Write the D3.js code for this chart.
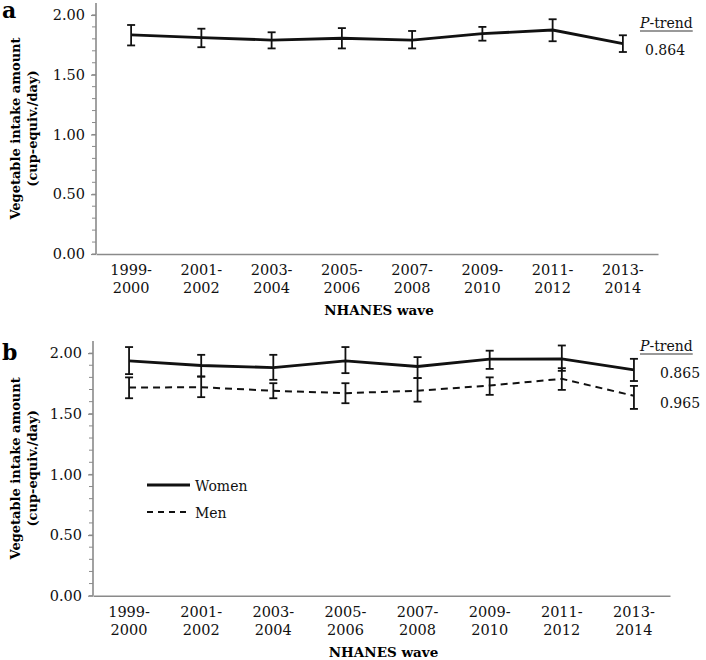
<!DOCTYPE html>
<html><head><meta charset="utf-8">
<script src="https://cdn.jsdelivr.net/npm/d3@7"></script>
<style>
body{margin:0;background:#fff;}
</style></head>
<body>
<svg id="chart" width="706" height="660"></svg>
<script>
const waves = ["1999-2000","2001-2002","2003-2004","2005-2006","2007-2008","2009-2010","2011-2012","2013-2014"];
// Panel a: total
const totalMean = [1.833,1.81,1.79,1.805,1.79,1.843,1.874,1.76];
const totalLo   = [1.745,1.73,1.72,1.72,1.72,1.785,1.78,1.69];
const totalHi   = [1.916,1.885,1.855,1.89,1.866,1.90,1.964,1.83];
// Panel b: women / men
const womenMean = [1.936,1.898,1.881,1.936,1.89,1.95,1.953,1.862];
const womenLo   = [1.827,1.807,1.78,1.835,1.794,1.87,1.854,1.77];
const womenHi   = [2.05,1.986,1.986,2.05,1.967,2.02,2.063,1.953];
const menMean   = [1.716,1.719,1.689,1.67,1.69,1.733,1.788,1.648];
const menLo     = [1.628,1.637,1.628,1.587,1.60,1.656,1.697,1.54];
const menHi     = [1.80,1.807,1.752,1.752,1.794,1.80,1.876,1.73];
const yTicks = [0,0.5,1.0,1.5,2.0];
const pTrendA = ["0.864"];
const pTrendB = ["0.865","0.965"];
const seriesNames = ["Women","Men"];

const FONT = "DejaVu Serif";
const svg = d3.select("#chart").attr("font-family", FONT);
const axisColor = "#8a8a8a";
const FS = "14.5px";
const FS2 = "14px";

function panel(opt){
  const g = svg.append("g");
  const x = d3.scaleBand().domain(waves).range([opt.x0, opt.x1]);
  const y = d3.scaleLinear().domain([0,2.1]).range([opt.y0, opt.yTop]);

  const minor = d3.range(0, 2.05, 0.1);
  g.append("g").selectAll("line").data(minor).join("line")
    .attr("x1", opt.x0 - 4).attr("x2", opt.x0)
    .attr("y1", d=>y(d)).attr("y2", d=>y(d))
    .attr("stroke", axisColor).attr("stroke-width", 1);

  const yAxis = d3.axisLeft(y).tickValues(yTicks).tickFormat(d3.format(".2f")).tickSize(5).tickPadding(6);
  const ya = g.append("g").attr("transform",`translate(${opt.x0},0)`).call(yAxis).attr("font-family", FONT);
  ya.select(".domain").attr("stroke", axisColor).attr("stroke-width",1.6).attr("d", `M0,${y(2.1)}V${opt.y0}`);
  ya.selectAll(".tick line").attr("stroke", axisColor).attr("stroke-width",1.2);
  ya.selectAll(".tick text").attr("font-size",FS).attr("fill","#111");

  const xAxis = d3.axisBottom(x).tickSize(0).tickPadding(0);
  const xa = g.append("g").attr("transform",`translate(0,${opt.y0})`).call(xAxis).attr("font-family", FONT);
  xa.select(".domain").attr("stroke", axisColor).attr("stroke-width",1.6);
  xa.selectAll(".tick text").each(function(d){
    const parts = d.split("-");
    const t = d3.select(this).text(null).attr("font-size",FS).attr("fill","#111")
      .attr("y", 0).attr("dy", null);
    t.append("tspan").attr("x",0).attr("y",21).text(parts[0]+"-");
    t.append("tspan").attr("x",0).attr("y",39).text(parts[1]);
  });

  g.append("text").attr("x", (opt.x0+opt.x1)/2 + 2).attr("y", opt.y0 + 61)
    .attr("text-anchor","middle").attr("font-weight","bold").attr("font-size","13.5px").text("NHANES wave");
  const cy = (opt.y0 + y(2.1))/2;
  const yl = g.append("text").attr("transform",`translate(20,${cy}) rotate(-90)`)
    .attr("text-anchor","middle").attr("font-weight","bold").attr("font-size","13px");
  yl.append("tspan").attr("x",0).attr("y",0).text("Vegetable intake amount");
  yl.append("tspan").attr("x",0).attr("y",17).text("(cup-equiv./day)");

  g.append("text").attr("x", 2).attr("y", opt.y0 - 236).attr("font-weight","bold")
    .attr("font-size","22px").text(opt.letter);

  const line = d3.line().x((d,i)=>x(waves[i]) + x.bandwidth()/2).y(d=>y(d));
  opt.series.forEach(s=>{
    g.append("path").datum(s.mean).attr("d", line).attr("fill","none")
      .attr("stroke","#111").attr("stroke-width", s.dash ? 2 : 2.8)
      .attr("stroke-dasharray", s.dash ? "7,5" : null);
    const eb = g.append("g");
    waves.forEach((w,i)=>{
      const cx = x(w) + x.bandwidth()/2;
      eb.append("line").attr("x1",cx).attr("x2",cx).attr("y1",y(s.lo[i])).attr("y2",y(s.hi[i]))
        .attr("stroke","#111").attr("stroke-width",1.8);
      [s.lo[i], s.hi[i]].forEach(v=>{
        eb.append("line").attr("x1",cx-4).attr("x2",cx+4).attr("y1",y(v)).attr("y2",y(v))
          .attr("stroke","#111").attr("stroke-width",1.8);
      });
    });
  });
  return {x,y,g};
}

const A = panel({x0:96, x1:658, y0:254, yTop:3, letter:"a",
  series:[{mean:totalMean, lo:totalLo, hi:totalHi, dash:false}]});
const B = panel({x0:93, x1:670, y0:595.7, yTop:341, letter:"b",
  series:[{mean:womenMean, lo:womenLo, hi:womenHi, dash:false},
          {mean:menMean, lo:menLo, hi:menHi, dash:true}]});

function ptrend(g, xl, yTitle, vals, xv, yv, step){
  const t = g.append("text").attr("x", xl).attr("y", yTitle).attr("font-size",FS2).attr("fill","#111");
  t.append("tspan").attr("font-style","italic").text("P");
  t.append("tspan").text("-trend");
  const w = t.node().getComputedTextLength();
  g.append("line").attr("x1",xl).attr("x2",xl+w).attr("y1",yTitle+3).attr("y2",yTitle+3)
    .attr("stroke","#777").attr("stroke-width",1.3);
  vals.forEach((v,i)=>{
    g.append("text").attr("x", xv).attr("y", yv + i*step).attr("font-size",FS2).attr("fill","#111").text(v);
  });
}
ptrend(A.g, 640, 28, pTrendA, 645, 55, 0);
ptrend(B.g, 640, 351, pTrendB, 660, 378, 30);

const lg = B.g.append("g");
seriesNames.forEach((n,i)=>{
  const yy = 485 + i*27;
  lg.append("line").attr("x1",147).attr("x2", i===0?190:187).attr("y1",yy).attr("y2",yy)
    .attr("stroke","#111").attr("stroke-width", i===0?2.8:2).attr("stroke-dasharray", i===0?null:"6,5");
  lg.append("text").attr("x",195).attr("y",yy+6).attr("font-size",FS2).attr("fill","#111").text(n);
});
</script>
</body></html>
